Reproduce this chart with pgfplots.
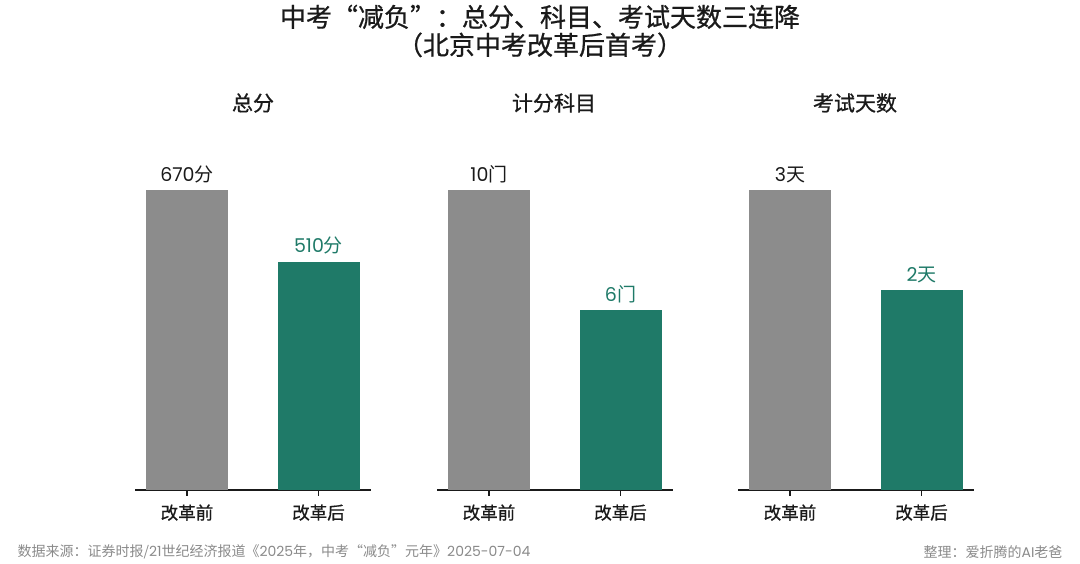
\documentclass[border=0pt]{standalone}
\usepackage{fontspec}
\setmainfont{Noto Sans CJK SC}
\newfontfamily\med[FakeBold=0.8]{Noto Sans CJK SC}
\newfontfamily\num{Poppins}
\usepackage{pgfplots}
\pgfplotsset{compat=1.18}
\definecolor{bargrey}{HTML}{8C8C8C}
\definecolor{barteal}{HTML}{1F7A68}
\definecolor{foot}{HTML}{8A8A8A}
\definecolor{ink}{HTML}{1A1A1A}
\pgfplotsset{
  panel/.style={
    at={(#1pt,74pt)}, anchor=south west,
    scale only axis, width=236pt, height=300pt,
    ymin=0, xmin=-0.395, xmax=1.399,
    axis x line*=bottom, axis y line=none,
    x axis line style={line width=1.4pt, ink},
    xtick={0,1}, xticklabels={改革前,改革后},
    tick align=outside, major tick length=6pt,
    xtick style={line width=1.4pt, ink},
    ticklabel style={font=\med\fontsize{17.5}{20}\selectfont, text=ink},
    xticklabel style={yshift=-5pt},
    ytick=\empty, bar width=82pt, clip=false,
  },
  gbar/.style={ybar, fill=bargrey, draw=none, bar shift=0pt,
    every node near coord/.append style={text=ink, anchor=south, font=\fontsize{19}{21}\selectfont, inner sep=4pt, yshift=3pt}},
  tbar/.style={ybar, fill=barteal, draw=none, bar shift=0pt,
    every node near coord/.append style={text=barteal, anchor=south, font=\fontsize{19}{21}\selectfont, inner sep=4pt, yshift=3pt}},
}
\begin{document}
\begin{tikzpicture}
\useasboundingbox (0,0) rectangle (1080pt,564pt);
\node[align=center, text=ink, font=\med\fontsize{26}{28}\selectfont] at (540pt,533pt) {中考“减负”：总分、科目、考试天数三连降\\（北京中考改革后首考）};
\node[text=ink, font=\med\fontsize{21}{24}\selectfont] at (253pt,461pt) {总分};
\node[text=ink, font=\med\fontsize{21}{24}\selectfont] at (554pt,461pt) {计分科目};
\node[text=ink, font=\med\fontsize{21}{24}\selectfont] at (855pt,461pt) {考试天数};

\begin{axis}[panel=135, ymax=670]
\addplot[gbar, nodes near coords={{\num 670}分}] coordinates {(0,670)};
\addplot[tbar, nodes near coords={{\num 510}分}] coordinates {(1,510)};
\end{axis}
\begin{axis}[panel=437, ymax=10]
\addplot[gbar, nodes near coords={{\num 10}门}] coordinates {(0,10)};
\addplot[tbar, nodes near coords={{\num 6}门}] coordinates {(1,6)};
\end{axis}
\begin{axis}[panel=738, ymax=3]
\addplot[gbar, nodes near coords={{\num 3}天}] coordinates {(0,3)};
\addplot[tbar, nodes near coords={{\num 2}天}] coordinates {(1,2)};
\end{axis}

\node[anchor=west, text=foot, font=\fontsize{14}{16}\selectfont] at (14pt,12.5pt) {数据来源：证券时报/{\num 21}世纪经济报道《{\num 2025}年，中考“减负”元年》{\num 2025-07-04}};
\node[anchor=east, text=foot, font=\fontsize{14}{16}\selectfont] at (1066pt,12pt) {整理：爱折腾的{\num AI}老爸};
\end{tikzpicture}
\end{document}
